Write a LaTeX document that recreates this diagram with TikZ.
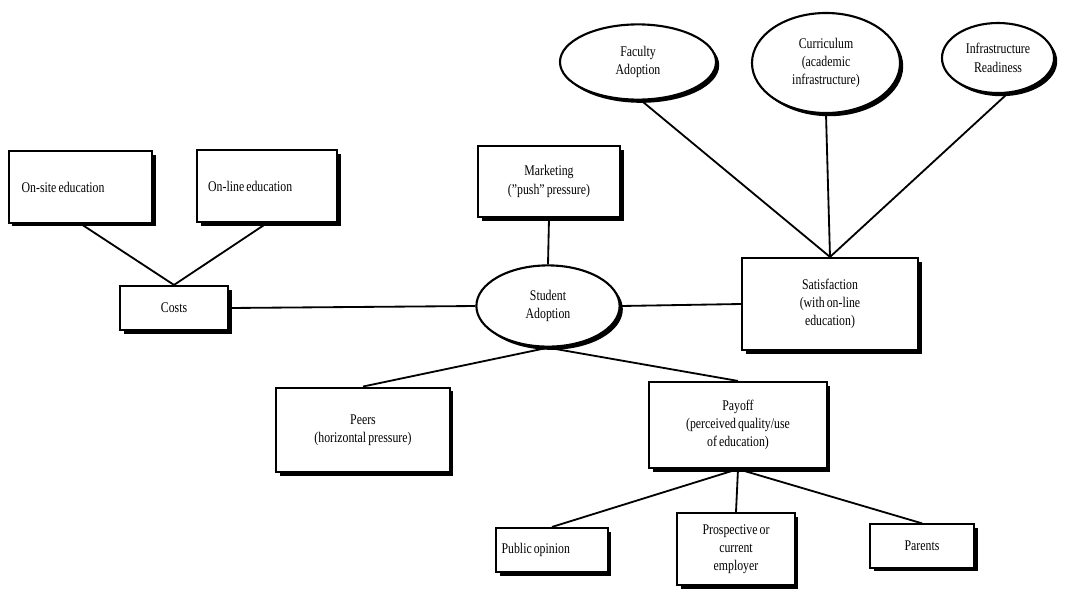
\documentclass[tikz,border=0pt]{standalone}
\usepackage{fontspec}
\setmainfont{Liberation Serif}[FakeStretch=0.8, WordSpace=0.7]
\usepackage{tikz}
\usetikzlibrary{shapes.geometric,shadows}

\begin{document}
\begin{tikzpicture}[
    x=0.025cm, y=-0.025cm,
    box/.style={rectangle, draw=black, line width=1.5pt, fill=white, align=center, inner sep=1mm, font=\fontsize{10.5}{13}\selectfont, drop shadow={shadow xshift=0.9mm, shadow yshift=-0.9mm, fill=black, opacity=1}},
    bubble/.style={ellipse, draw=black, line width=1.5pt, fill=white, align=center, inner sep=0pt, font=\fontsize{10.5}{13}\selectfont, drop shadow={shadow xshift=0.8mm, shadow yshift=-0.8mm, fill=black, opacity=1}},
    link/.style={line width=1.3pt}
]
    \useasboundingbox (0,0) rectangle (1089,588);

    % costs side
    \node[box, minimum width=3.58cm, minimum height=1.78cm] (onsite) at (80.5,187) {\makebox[2.94cm][l]{On-site education}};
    \node[box, minimum width=3.5cm, minimum height=1.8cm] (online) at (267,186) {\makebox[2.94cm][l]{On-line education}};
    \node[box, minimum width=2.7cm, minimum height=1.1cm] (costs) at (174,308) {Costs};

    % centre
    \node[box, minimum width=3.55cm, minimum height=1.78cm] (marketing) at (549,181.5) {Marketing\\("push" pressure)};
    \node[bubble, minimum width=3.58cm, minimum height=2.03cm] (student) at (548,306) {Student\\Adoption};

    % satisfaction side
    \node[bubble, minimum width=3.9cm, minimum height=1.88cm] (faculty) at (638,62) {Faculty\\Adoption};
    \node[bubble, minimum width=3.7cm, minimum height=2.5cm] (curriculum) at (826,63) {Curriculum\\(academic\\infrastructure)};
    \node[bubble, minimum width=2.8cm, minimum height=1.75cm] (infra) at (998,58) {Infrastructure\\Readiness};
    \node[box, minimum width=4.4cm, minimum height=2.3cm] (satisfaction) at (830,304) {Satisfaction\\(with on-line\\education)};

    % lower part
    \node[box, minimum width=4.33cm, minimum height=2.12cm] (peers) at (363,430) {Peers\\(horizontal pressure)};
    \node[box, minimum width=4.43cm, minimum height=2.15cm] (payoff) at (738,425) {Payoff\\(perceived quality/use\\of education)};
    \node[box, minimum width=2.78cm, minimum height=1.1cm] (public) at (552,550) {\makebox[2.52cm][l]{Public opinion}};
    \node[box, minimum width=2.93cm, minimum height=1.8cm] (employer) at (736,549) {Prospective or\\current\\employer};
    \node[box, minimum width=2.6cm, minimum height=1.08cm] (parents) at (922,546) {Parents};

    \draw[link] (onsite.south) -- (costs.north);
    \draw[link] (online.south) -- (costs.north);
    \draw[link] (costs.east) -- (student.west);
    \draw[link] (marketing.south) -- (student.north);
    \draw[link] (student.east) -- (satisfaction.west);
    \draw[link] (faculty.-85) -- (satisfaction.north);
    \draw[link] (curriculum.south) -- (satisfaction.north);
    \draw[link] (infra.-75) -- (satisfaction.north);
    \draw[link] (student.south) -- (peers.north);
    \draw[link] (student.south) -- (payoff.north);
    \draw[link] (payoff.south) -- (public.north);
    \draw[link] (payoff.south) -- (employer.north);
    \draw[link] (payoff.south) -- (parents.north);
\end{tikzpicture}
\end{document}
